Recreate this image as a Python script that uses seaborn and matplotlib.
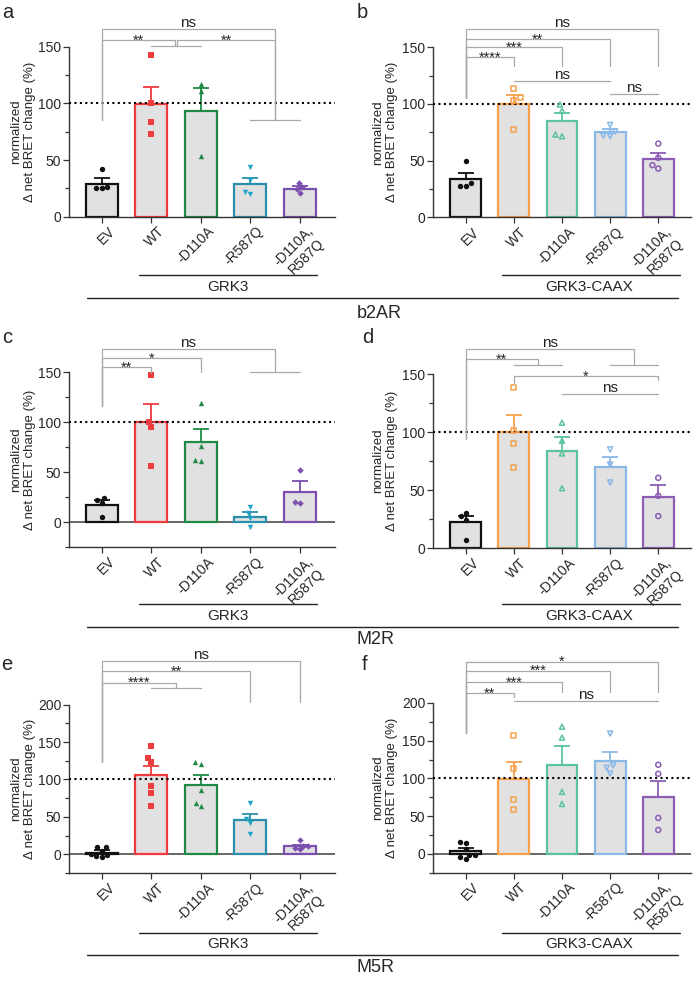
import numpy as np
import pandas as pd
import matplotlib
matplotlib.use('Agg')
import matplotlib.pyplot as plt
import matplotlib.transforms as mtrans
import seaborn as sns
from matplotlib.lines import Line2D
from matplotlib.ticker import MultipleLocator

sns.set_style('ticks')
plt.rcParams['font.family'] = ['Liberation Sans', 'DejaVu Sans']

W, H = 700, 981

conds = ['EV', 'WT', '-D110A', '-R587Q', '-D110A,\nR587Q']

# colours / markers
grk3_edge = ['#111111', '#ee3a3c', '#1f8a45', '#2b8eac', '#7b4fae']
grk3_pts = ['#111111', '#f03c3c', '#1f8a45', '#1ea5c9', '#7b4fae']
caax_edge = ['#111111', '#f7a04c', '#5bc49b', '#8ab9e8', '#8d5db6']
grk3_markers = ['o', 's', '^', 'v', 'D']
caax_markers = ['o', 's', '^', 'v', 'o']

# ---- a: b2AR, GRK3
a_means = [29, 99.5, 93.5, 28.5, 24.7]
a_sem = [4.8, 15.2, 20.3, 5.9, 2.3]
a_pts = [[42.5, 26.5, 25, 25], [142.5, 100, 83.5, 73], [117, 111, 53.5],
         [44, 32.5, 20, 22], [29.5, 26, 24.5, 21]]
# ---- b: b2AR, GRK3-CAAX
b_means = [34, 99.8, 84.7, 75, 51.5]
b_sem = [5.1, 7.8, 7.7, 3.2, 5.0]
b_pts = [[49.5, 30, 28, 28], [113.5, 105.5, 103, 77.5], [99.5, 94, 71.5, 73],
         [81.5, 75.5, 71.5, 72], [65, 52.5, 46, 43]]
# ---- c: M2R, GRK3
c_means = [17.5, 99.8, 80, 5.5, 30.5]
c_sem = [4.9, 18.6, 13.6, 4.5, 11]
c_pts = [[22, 24.5, 19.5, 5], [147, 100.5, 95.5, 56], [119.5, 76.5, 61.5, 62.5],
         [15.5, 9.5, 4.5, -5], [52.5, 19.5, 20.5]]
# ---- d: M2R, GRK3-CAAX
d_means = [22.4, 100, 84, 70, 44]
d_sem = [5.5, 14.7, 12, 8.7, 10]
d_pts = [[30.5, 27.5, 24.5, 6.5], [138.5, 101.5, 90.5, 69.5], [108, 92.5, 81.5, 51.5],
         [85, 72, 56.5], [60.5, 45, 27.5]]
# ---- e: M5R, GRK3
e_means = [2.2, 105.4, 92.9, 46, 10.7]
e_sem = [3.2, 12.9, 12.5, 8, 2.2]
e_pts = [[5, 10, 9.5, -1.5, -4, -2, 0.5], [145, 128.5, 123, 91.5, 82, 64.5],
         [120.5, 123, 86.5, 65, 68.5], [68, 47, 42, 26.5], [19, 10.5, 6.5, 9, 10.5]]
# ---- f: M5R, GRK3-CAAX
f_means = [3, 99.6, 117.3, 123, 75.7]
f_sem = [4, 22.4, 26.1, 12.4, 21.3]
f_pts = [[15.5, 14, 6, -2, -2, -5, -7.5], [156.5, 113.5, 72, 59], [168.5, 154, 82, 66],
         [159.5, 117, 114, 106.5], [118, 106, 47.5, 31.5]]

# significance brackets: (x1, x2, height, left leg end, right leg end, label)
a_br = [(0, 3.5, 165.3, 85.3, 85.3, 'ns'), (0, 1.48, 155.9, 85.3, 150.6, '**'),
        (1.52, 3.5, 155.9, 150.6, 85.3, '**')]
a_grp = [(1, 2, 150.6), (3, 4, 85.3)]
b_br = [(0, 4, 165.9, 105, 133.5, 'ns'), (0, 3, 157.4, 105, 133.5, '**'),
        (0, 2, 150, 105, 133.5, '***'), (0, 1, 141.2, 105, 133.5, '****'),
        (1, 3, 120.3, None, None, 'ns'), (3, 4, 108.8, None, None, 'ns')]
b_grp = []
c_br = [(0, 3.5, 173, 116.2, 150.6, 'ns'), (0, 2, 164, 116.2, 150.6, '*'),
        (0, 1, 155, 116.2, 149, '**')]
c_grp = [(3, 4, 150.6)]
d_br = [(0, 3.5, 171.3, 93.7, 157.8, 'ns'), (0, 1.5, 162.7, 93.7, 157.8, '**'),
        (1, 4, 148.3, 142, 144.8, '*'), (2, 4, 132.8, None, None, 'ns')]
d_grp = [(1, 2, 157.8), (3, 4, 157.8)]
e_br = [(0, 4, 257.6, 123.6, 204, 'ns'), (0, 3, 245, 123.6, 204, '**'),
        (0, 1.5, 229.5, 123.6, 221.9, '****')]
e_grp = [(1, 2, 221.9)]
f_br = [(0, 4, 254.9, 159.8, 215, '*'), (0, 3, 243, 159.8, 215, '***'),
        (0, 2, 227.5, 159.8, 215, '***'), (0, 1, 213, 159.8, 207.6, '**'),
        (1, 4, 202.7, None, None, 'ns')]
f_grp = []


def rect(l, t, r, b):
    return [l / W, 1 - b / H, (r - l) / W, (b - t) / H]


def draw_panel(ax, means, sem, pts, edge, pcol, markers, hollow, ylim, ymax_tick, brackets, groups, xlim):
    df = pd.DataFrame({'cond': conds, 'mean': means})
    sns.barplot(data=df, x='cond', y='mean', order=conds, color='#e1e1e1', saturation=1,
                width=0.64, linewidth=1.6, edgecolor='k', errorbar=None, ax=ax, zorder=2)
    for patch, c in zip(ax.patches, edge):
        patch.set_edgecolor(c)
    for i in range(len(conds)):
        ax.errorbar(i, means[i], yerr=[[0], [sem[i]]], color=edge[i], capsize=5.5,
                    elinewidth=1.3, capthick=1.3, zorder=3)
    for i, vals in enumerate(pts):
        if hollow and i > 0:
            sns.swarmplot(x=[conds[i]] * len(vals), y=vals, order=conds, marker=markers[i],
                          size=3.6, facecolor='none', edgecolor=pcol[i], linewidth=1.1,
                          zorder=4, ax=ax)
        else:
            sns.swarmplot(x=[conds[i]] * len(vals), y=vals, order=conds, marker=markers[i],
                          size=3.9 if markers[i] != 'D' else 3.3, color=pcol[i], zorder=4, ax=ax)
    ax.axhline(100, color='black', ls=(0, (1, 1.6)), lw=1.5, zorder=3.5)
    if ylim[0] < 0:
        ax.axhline(0, color='#5a5a5a', lw=1.3, zorder=1)
    ax.set_xlim(*xlim)
    ax.set_ylim(*ylim)
    ax.set_yticks(np.arange(0, ymax_tick + 1, 50))
    ax.yaxis.set_minor_locator(MultipleLocator(25))
    ax.set_xticks(range(len(conds)))
    ax.set_xticklabels([])
    # rotated condition labels, nudged to the right of each tick
    lab_tr = ax.get_xaxis_transform() + mtrans.ScaledTranslation(6 / 100, -7.5 / 100,
                                                                 ax.figure.dpi_scale_trans)
    for i, c in enumerate(conds):
        ax.text(i, 0, c, transform=lab_tr, rotation=45, ha='right', va='top',
                rotation_mode='anchor', fontsize=10)
    ax.tick_params(axis='y', labelsize=10, length=4, width=0.9, pad=1.5, color='#333333')
    ax.tick_params(axis='y', which='minor', length=3, width=0.9, color='#333333')
    ax.tick_params(axis='x', length=4, width=0.9, pad=2, color='#333333')
    ax.set_xlabel('')
    ax.set_ylabel('normalized\n\u0394 net BRET change (%)', fontsize=9.5, linespacing=1.2)
    for s in ['top', 'right']:
        ax.spines[s].set_visible(False)
    for s in ['left', 'bottom']:
        ax.spines[s].set_color('#333333')
        ax.spines[s].set_linewidth(1.0)
    ax.set_facecolor('none')
    gray = '#a8a8a8'
    for x1, x2, h, d1, d2, lab in brackets:
        xs, ys = [x1, x2], [h, h]
        if d1 is not None:
            xs, ys = [x1] + xs, [d1] + ys
        if d2 is not None:
            xs, ys = xs + [x2], ys + [d2]
        ax.plot(xs, ys, color=gray, lw=0.9, clip_on=False, zorder=5)
        if lab == 'ns':
            ax.annotate(lab, xy=((x1 + x2) / 2, h), xytext=(0, 1.5), textcoords='offset points',
                        ha='center', va='baseline', fontsize=11, color='#222222',
                        annotation_clip=False)
        else:
            ax.annotate(lab, xy=((x1 + x2) / 2, h), xytext=(0, -3.2), textcoords='offset points',
                        ha='center', va='baseline', fontsize=10.5, color='#222222',
                        annotation_clip=False)
    for x1, x2, y in groups:
        ax.plot([x1, x2], [y, y], color=gray, lw=0.9, clip_on=False, zorder=5)


fig = plt.figure(figsize=(W / 100, H / 100), dpi=100)

left_x = (-0.66, 4.71)
right_x = (-0.68, 4.68)

panels = [
    (rect(69, 46.7, 335, 216.7), a_means, a_sem, a_pts, grk3_edge, grk3_pts, grk3_markers, False, (0, 150), 150, a_br, a_grp, left_x, -0.125),
    (rect(433, 47.3, 691, 217.3), b_means, b_sem, b_pts, caax_edge, caax_edge, caax_markers, True, (0, 150), 150, b_br, b_grp, right_x, -0.135),
    (rect(69, 372.3, 335, 547), c_means, c_sem, c_pts, grk3_edge, grk3_pts, grk3_markers, False, (-25, 150), 150, c_br, c_grp, left_x, -0.125),
    (rect(433, 374, 691, 548), d_means, d_sem, d_pts, caax_edge, caax_edge, caax_markers, True, (0, 150), 150, d_br, d_grp, right_x, -0.135),
    (rect(69, 704.6, 335, 873), e_means, e_sem, e_pts, grk3_edge, grk3_pts, grk3_markers, False, (-25, 200), 200, e_br, e_grp, left_x, -0.125),
    (rect(433, 703, 691, 872.5), f_means, f_sem, f_pts, caax_edge, caax_edge, caax_markers, True, (-25, 200), 200, f_br, f_grp, right_x, -0.135),
]

for r, means, sem, pts, edge, pcol, mk, hollow, ylim, ymt, br, grp, xl, labx in panels:
    ax = fig.add_axes(r)
    draw_panel(ax, means, sem, pts, edge, pcol, mk, hollow, ylim, ymt, br, grp, xl)
    ax.yaxis.set_label_coords(labx, 0.5)


def hline(x1, x2, y, lw=1.0):
    fig.add_artist(Line2D([x1 / W, x2 / W], [1 - y / H, 1 - y / H], color='#222222', lw=lw))


def ftext(x, y, s, **kw):
    fig.text(x / W, 1 - y / H, s, **kw)


for sub_y, long_y, txt_y, rec_y, rec in [(275, 297.7, 287, 313, 'b2AR'),
                                         (604, 626.7, 616, 640, 'M2R'),
                                         (933.3, 954.5, 944, 968, 'M5R')]:
    hline(139, 317, sub_y)
    hline(502, 680, sub_y)
    hline(87.3, 678, long_y)
    ftext(228, txt_y, 'GRK3', ha='center', va='center', fontsize=11)
    ftext(589, txt_y, 'GRK3-CAAX', ha='center', va='center', fontsize=11)
    ftext(357, rec_y, rec, ha='left', va='center', fontsize=13)

for lx, ly, lab in [(2, 18, 'a'), (357, 18, 'b'), (2, 343, 'c'), (362, 343, 'd'),
                    (1, 670, 'e'), (362, 670, 'f')]:
    ftext(lx, ly, lab, ha='left', va='baseline', fontsize=14.5)

fig.savefig('out.png', dpi=100)
